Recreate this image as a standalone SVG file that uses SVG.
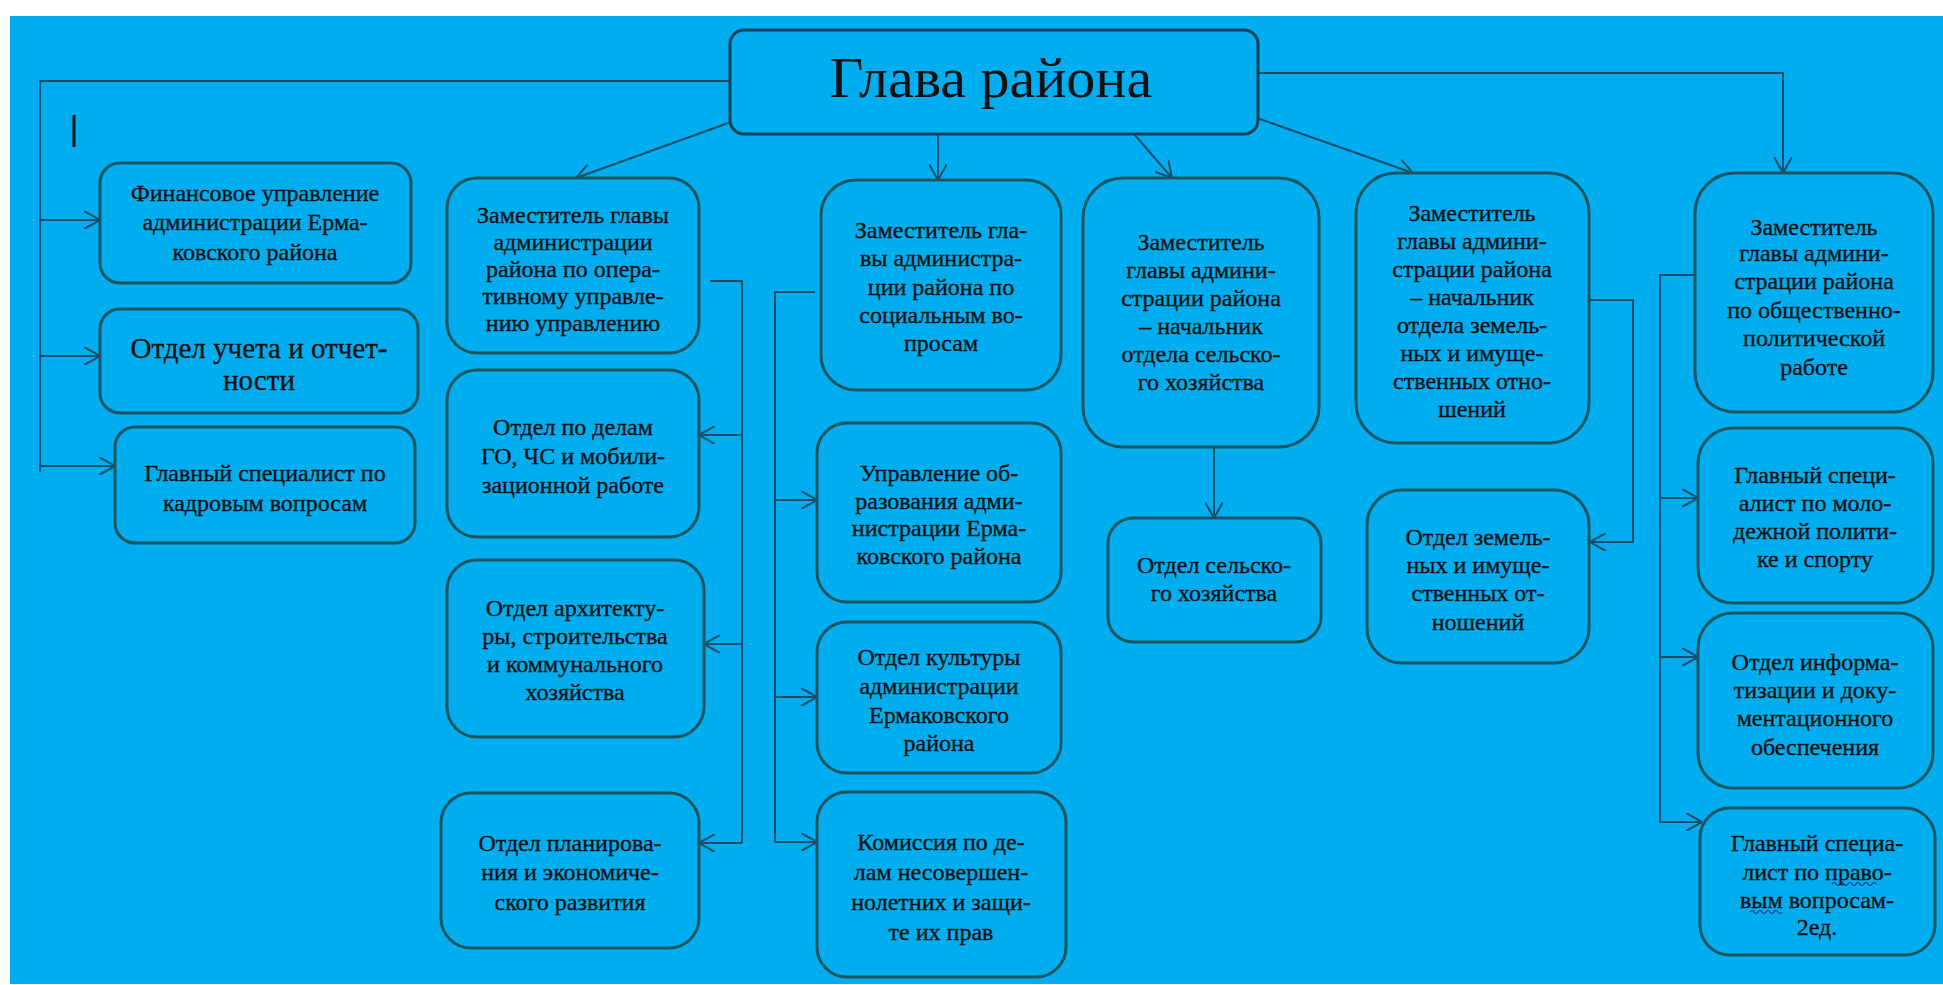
<svg xmlns="http://www.w3.org/2000/svg" width="1943" height="985" viewBox="0 0 1943 985">
<style>
.bx{fill:#00AEEF;stroke:#1c5460;stroke-width:3}
.hd{fill:#00AEEF;stroke:#12405a;stroke-width:3}
.t{font-size:24px;fill:#111;text-anchor:middle;stroke:#111;stroke-width:0.35}
.tl{font-size:29px}
.th{font-size:58px;fill:#111;text-anchor:middle}
.c{fill:none;stroke:#1a4d6e;stroke-width:2}
.a{marker-end:url(#ar)}
</style>
<defs>
<marker id="ar" viewBox="0 0 16 18" refX="16" refY="9" markerWidth="16" markerHeight="18" markerUnits="userSpaceOnUse" orient="auto">
<path d="M0,0 L16,9 L0,18" fill="none" stroke="#1a4d6e" stroke-width="2"/>
</marker>
</defs>
<rect x="0" y="0" width="1943" height="985" fill="#ffffff"/>
<rect x="10" y="16" width="1933" height="968" fill="#00AEEF"/>
<line x1="74" y1="115" x2="74" y2="147" stroke="#111" stroke-width="3"/>

<g id="connectors">
<polyline class="c" points="730,81 40,81 40,472"/>
<line class="c a" x1="40" y1="220" x2="100" y2="220"/>
<line class="c a" x1="40" y1="356" x2="100" y2="356"/>
<line class="c a" x1="40" y1="466" x2="115" y2="466"/>
<line class="c a" x1="731" y1="122" x2="576" y2="178"/>
<line class="c a" x1="938" y1="134" x2="938" y2="180"/>
<line class="c a" x1="1134" y1="134" x2="1172" y2="178"/>
<line class="c a" x1="1257" y1="118" x2="1413" y2="173"/>
<polyline class="c a" points="1258,73 1783,73 1783,173"/>
<polyline class="c" points="710,281 742,281 742,843"/>
<line class="c a" x1="742" y1="435" x2="699" y2="435"/>
<line class="c a" x1="742" y1="644" x2="704" y2="644"/>
<line class="c a" x1="742" y1="843" x2="699" y2="843"/>
<polyline class="c" points="815,292 775,292 775,842"/>
<line class="c a" x1="775" y1="500" x2="817" y2="500"/>
<line class="c a" x1="775" y1="697" x2="817" y2="697"/>
<line class="c a" x1="775" y1="842" x2="817" y2="842"/>
<line class="c a" x1="1214" y1="447" x2="1214" y2="518"/>
<polyline class="c a" points="1589,300 1633,300 1633,542 1590,542"/>
<polyline class="c" points="1696,275 1660,275 1660,823"/>
<line class="c a" x1="1660" y1="498" x2="1698" y2="498"/>
<line class="c a" x1="1660" y1="657" x2="1698" y2="657"/>
<line class="c a" x1="1660" y1="822" x2="1702" y2="822"/>
</g>

<g id="head">
<rect class="hd" x="730" y="30" width="528" height="104" rx="14"/>
<text class="th" x="991" y="97" font-family="Liberation Serif">Глава района</text>
</g>

<g id="fin">
<rect class="bx" x="100" y="163" width="311" height="120" rx="20"/>
<text class="t" font-family="Liberation Serif"><tspan x="255" y="201">Финансовое управление</tspan><tspan x="255" y="230">администрации  Ерма-</tspan><tspan x="255" y="260">ковского района</tspan></text>
</g>
<g id="uchet">
<rect class="bx" x="100" y="309" width="318" height="104" rx="20"/>
<text class="t tl" font-family="Liberation Serif"><tspan x="259" y="358">Отдел учета и отчет-</tspan><tspan x="259" y="390">ности</tspan></text>
</g>
<g id="kadry">
<rect class="bx" x="115" y="427" width="300" height="116" rx="20"/>
<text class="t" font-family="Liberation Serif"><tspan x="265" y="481">Главный специалист  по</tspan><tspan x="265" y="511">кадровым вопросам</tspan></text>
</g>

<g id="zam-oper">
<rect class="bx" x="447" y="178" width="252" height="175" rx="30"/>
<text class="t" font-family="Liberation Serif"><tspan x="573" y="223">Заместитель главы</tspan><tspan x="573" y="250">администрации</tspan><tspan x="573" y="277">района по опера-</tspan><tspan x="573" y="304">тивному управле-</tspan><tspan x="573" y="331">нию управлению</tspan></text>
</g>
<g id="go-chs">
<rect class="bx" x="447" y="370" width="252" height="167" rx="30"/>
<text class="t" font-family="Liberation Serif"><tspan x="573" y="435">Отдел по делам</tspan><tspan x="573" y="464">ГО, ЧС и мобили-</tspan><tspan x="573" y="493">зационной работе</tspan></text>
</g>
<g id="arch">
<rect class="bx" x="447" y="560" width="257" height="177" rx="30"/>
<text class="t" font-family="Liberation Serif"><tspan x="575" y="616">Отдел архитекту-</tspan><tspan x="575" y="644">ры, строительства</tspan><tspan x="575" y="672">и коммунального</tspan><tspan x="575" y="700">хозяйства</tspan></text>
</g>
<g id="plan">
<rect class="bx" x="441" y="793" width="258" height="155" rx="30"/>
<text class="t" font-family="Liberation Serif"><tspan x="570" y="851">Отдел планирова-</tspan><tspan x="570" y="880">ния и экономиче-</tspan><tspan x="570" y="910">ского развития</tspan></text>
</g>

<g id="zam-soc">
<rect class="bx" x="821" y="180" width="240" height="210" rx="35"/>
<text class="t" font-family="Liberation Serif"><tspan x="941" y="238">Заместитель гла-</tspan><tspan x="941" y="266">вы администра-</tspan><tspan x="941" y="295">ции района по</tspan><tspan x="941" y="323">социальным во-</tspan><tspan x="941" y="351">просам</tspan></text>
</g>
<g id="obraz">
<rect class="bx" x="817" y="423" width="244" height="179" rx="30"/>
<text class="t" font-family="Liberation Serif"><tspan x="939" y="481">Управление об-</tspan><tspan x="939" y="509">разования адми-</tspan><tspan x="939" y="536">нистрации  Ерма-</tspan><tspan x="939" y="564">ковского района</tspan></text>
</g>
<g id="kult">
<rect class="bx" x="817" y="622" width="244" height="151" rx="30"/>
<text class="t" font-family="Liberation Serif"><tspan x="939" y="665">Отдел культуры</tspan><tspan x="939" y="694">администрации</tspan><tspan x="939" y="723">Ермаковского</tspan><tspan x="939" y="751">района</tspan></text>
</g>
<g id="kdn">
<rect class="bx" x="817" y="792" width="249" height="185" rx="30"/>
<text class="t" font-family="Liberation Serif"><tspan x="941" y="850">Комиссия по де-</tspan><tspan x="941" y="880">лам  несовершен-</tspan><tspan x="941" y="910">нолетних  и защи-</tspan><tspan x="941" y="940">те их прав</tspan></text>
</g>

<g id="zam-selhoz">
<rect class="bx" x="1083" y="178" width="236" height="269" rx="40"/>
<text class="t" font-family="Liberation Serif"><tspan x="1201" y="250">Заместитель</tspan><tspan x="1201" y="278">главы админи-</tspan><tspan x="1201" y="306">страции  района</tspan><tspan x="1201" y="334">– начальник</tspan><tspan x="1201" y="362">отдела сельско-</tspan><tspan x="1201" y="390">го хозяйства</tspan></text>
</g>
<g id="selhoz">
<rect class="bx" x="1108" y="518" width="213" height="124" rx="25"/>
<text class="t" font-family="Liberation Serif"><tspan x="1214" y="573">Отдел сельско-</tspan><tspan x="1214" y="601">го хозяйства</tspan></text>
</g>

<g id="zam-zem">
<rect class="bx" x="1356" y="173" width="233" height="270" rx="40"/>
<text class="t" font-family="Liberation Serif"><tspan x="1472" y="221">Заместитель</tspan><tspan x="1472" y="249">главы админи-</tspan><tspan x="1472" y="277">страции  района</tspan><tspan x="1472" y="305">– начальник</tspan><tspan x="1472" y="333">отдела земель-</tspan><tspan x="1472" y="361">ных и имуще-</tspan><tspan x="1472" y="389">ственных  отно-</tspan><tspan x="1472" y="417">шений</tspan></text>
</g>
<g id="zem">
<rect class="bx" x="1367" y="490" width="222" height="173" rx="35"/>
<text class="t" font-family="Liberation Serif"><tspan x="1478" y="545">Отдел земель-</tspan><tspan x="1478" y="573">ных и имуще-</tspan><tspan x="1478" y="601">ственных  от-</tspan><tspan x="1478" y="630">ношений</tspan></text>
</g>

<g id="zam-obsh">
<rect class="bx" x="1695" y="173" width="238" height="239" rx="40"/>
<text class="t" font-family="Liberation Serif"><tspan x="1814" y="235">Заместитель</tspan><tspan x="1814" y="261">главы админи-</tspan><tspan x="1814" y="289">страции  района</tspan><tspan x="1814" y="318">по общественно-</tspan><tspan x="1814" y="346">политической</tspan><tspan x="1814" y="375">работе</tspan></text>
</g>
<g id="molod">
<rect class="bx" x="1698" y="428" width="235" height="175" rx="35"/>
<text class="t" font-family="Liberation Serif"><tspan x="1815" y="483">Главный специ-</tspan><tspan x="1815" y="511">алист по моло-</tspan><tspan x="1815" y="539">дежной полити-</tspan><tspan x="1815" y="567">ке и спорту</tspan></text>
</g>
<g id="inform">
<rect class="bx" x="1698" y="613" width="235" height="175" rx="35"/>
<text class="t" font-family="Liberation Serif"><tspan x="1815" y="670">Отдел информа-</tspan><tspan x="1815" y="698">тизации  и доку-</tspan><tspan x="1815" y="726">ментационного</tspan><tspan x="1815" y="755">обеспечения</tspan></text>
</g>
<g id="pravo">
<rect class="bx" x="1700" y="808" width="235" height="147" rx="30"/>
<text class="t" font-family="Liberation Serif"><tspan x="1817" y="851">Главный  специа-</tspan><tspan x="1817" y="880">лист по право-</tspan><tspan x="1817" y="908">вым вопросам-</tspan><tspan x="1817" y="935">2ед.</tspan></text>
<path d="M1832,884 q2,-3 4,0 t4,0 t4,0 t4,0 t4,0 t4,0 t4,0 t4,0 t4,0 t4,0 t4,0 M1750,912 q2,-3 4,0 t4,0 t4,0 t4,0 t4,0 t4,0 t4,0 t4,0" fill="none" stroke="#1a2a8a" stroke-width="1.2"/>
</g>
</svg>
